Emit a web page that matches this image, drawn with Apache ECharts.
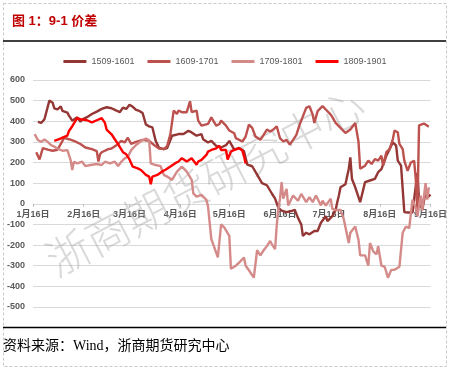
<!DOCTYPE html>
<html><head><meta charset="utf-8">
<script src="https://cdn.jsdelivr.net/npm/echarts@6/dist/echarts.min.js"></script>
<style>html,body{margin:0;padding:0;background:#fff}#c{width:450px;height:371px}</style>
</head><body><div id="c"></div>
<script>
// x = days after Jan 16, y = spread value
const seriesNames = ['1509-1601', '1609-1701', '1709-1801', '1809-1901'];
const xTickDays = [0, 31, 59, 90, 120, 151, 181, 212, 243];
const xTickLabels = ['1月16日', '2月16日', '3月16日', '4月16日', '5月16日', '6月16日', '7月16日', '8月16日', '9月16日'];
const yMin = -500, yMax = 600, yStep = 100;

const s1509 = [[3,397],[5,392],[7,410],[10,500],[12,490],[13,463],[15,458],[17,472],[18,450],[21,442],[22,427],[24,403],[27,419],[29,398],[30,408],[33,420],[36,435],[39,447],[42,460],[45,468],[48,463],[51,452],[53,444],[55,466],[57,460],[59,480],[61,470],[63,455],[65,450],[67,440],[69,385],[71,375],[73,370],[75,305],[77,272],[80,265],[82,270],[85,330],[89,338],[92,338],[95,354],[97,346],[100,330],[103,338],[104,313],[107,297],[109,305],[112,281],[115,273],[118,284],[120,305],[121,297],[123,263],[126,271],[129,255],[131,190],[134,182],[137,141],[140,100],[143,90],[146,50],[148,25],[150,-20],[152,-33],[155,-40],[158,-35],[160,-29],[162,-68],[164,-100],[165,-156],[167,-140],[169,-148],[172,-132],[174,-132],[176,-92],[179,-60],[180,-84],[183,-60],[185,-30],[186,8],[187,40],[188,80],[191,95],[193,168],[194,225],[195,120],[197,80],[200,8],[203,105],[206,113],[209,121],[211,153],[213,168],[215,209],[216,233],[218,265],[220,298],[222,282],[223,209],[225,185],[227,-40],[229,-42],[232,-42],[233,-40],[235,150],[236,20],[238,-30],[240,60],[241,30],[243,45]];
const s1609 = [[2,250],[4,215],[6,270],[9,263],[12,257],[15,262],[18,305],[19,320],[22,313],[25,305],[29,290],[32,273],[33,280],[36,265],[39,255],[40,205],[41,240],[42,250],[46,265],[48,268],[51,284],[54,305],[56,297],[58,320],[60,290],[63,300],[67,310],[71,305],[74,285],[77,268],[80,265],[82,280],[84,338],[86,452],[88,436],[89,452],[91,444],[94,444],[96,497],[97,444],[100,452],[101,403],[103,379],[104,387],[107,387],[109,419],[112,379],[114,387],[115,403],[118,379],[120,355],[123,342],[124,318],[128,302],[130,326],[132,384],[134,368],[136,326],[139,310],[141,334],[143,360],[145,350],[147,360],[149,376],[151,318],[153,302],[155,310],[157,287],[159,310],[161,334],[163,384],[165,424],[167,465],[169,473],[171,432],[172,392],[174,449],[177,473],[179,457],[182,432],[183,420],[185,392],[186,400],[188,368],[191,343],[194,360],[197,392],[199,300],[200,170],[203,185],[205,209],[207,193],[209,217],[211,209],[213,233],[214,185],[216,250],[218,265],[220,314],[221,355],[223,347],[224,290],[226,265],[227,209],[229,160],[231,200],[233,209],[234,120],[235,-35],[236,380],[239,389],[242,373]];
const s1709 = [[1,338],[3,309],[5,300],[7,312],[9,300],[11,285],[13,277],[15,268],[18,257],[19,248],[21,260],[23,212],[24,164],[25,204],[27,196],[30,204],[32,183],[35,188],[36,183],[39,193],[42,188],[44,204],[47,196],[50,204],[52,183],[54,204],[56,220],[58,228],[60,260],[63,285],[64,276],[67,309],[69,316],[71,309],[72,196],[75,188],[78,183],[80,140],[82,132],[85,116],[88,156],[91,180],[94,156],[97,116],[98,51],[100,35],[103,43],[106,19],[107,-13],[109,-170],[113,-260],[115,-100],[117,-115],[120,-155],[121,-315],[124,-300],[126,-285],[129,-260],[130,-300],[132,-322],[135,-358],[137,-225],[139,-250],[141,-225],[143,-205],[145,-180],[146,-195],[148,-220],[149,-105],[150,-25],[151,25],[152,105],[153,25],[155,72],[156,-8],[159,40],[162,15],[164,48],[167,8],[169,32],[171,8],[173,40],[176,-8],[177,15],[179,-8],[182,25],[183,-25],[185,-30],[188,-30],[190,-75],[193,-190],[194,-140],[197,-110],[199,-175],[200,-250],[203,-250],[205,-300],[206,-190],[208,-230],[210,-245],[211,-205],[213,-300],[215,-305],[217,-358],[219,-320],[221,-320],[224,-305],[226,-140],[228,-110],[230,-118],[232,20],[234,-20],[235,-60],[237,40],[238,-30],[240,100],[241,20],[242,80]];
const s1809 = [[13,305],[16,313],[18,321],[21,330],[22,353],[23,353],[24,376],[27,415],[29,410],[33,405],[36,395],[39,405],[42,415],[44,392],[45,360],[48,337],[50,313],[52,289],[55,250],[57,240],[59,215],[61,180],[64,172],[66,164],[69,140],[71,132],[72,95],[73,132],[76,140],[79,157],[81,165],[84,181],[87,197],[89,205],[91,221],[94,205],[95,213],[97,221],[100,189],[101,205],[103,213],[106,237],[107,253],[109,261],[112,269],[114,281],[115,261],[118,261],[119,215],[121,253],[123,261],[124,258],[126,269],[128,258],[129,230],[130,195]];

const colors = ['#943634', '#BC514E', '#D48A88', '#FF0000'];
const seriesData = [s1509, s1609, s1709, s1809];
const FONT = 'Liberation Sans, Arial, Noto Sans CJK SC, sans-serif';
const H = 371, gridBottom = 64;

const chart = echarts.init(document.getElementById('c'), null, {renderer: 'canvas'});
chart.setOption({
  animation: false,
  backgroundColor: '#fff',
  color: colors,
  grid: {left: 33, right: 17, top: 80, bottom: gridBottom, containLabel: false},
  legend: {
    top: 52, left: 'center', icon: 'rect', itemWidth: 23, itemHeight: 3, itemGap: 13,
    textStyle: {fontSize: 9, color: '#595959', fontFamily: FONT},
    data: seriesNames
  },
  xAxis: {
    type: 'value', min: 0, max: 243, position: 'bottom', offset: 0,
    splitLine: {show: false},
    axisLine: {onZero: false, lineStyle: {color: '#D9D9D9', width: 1}},
    axisTick: {show: true, customValues: xTickDays, length: 3, lineStyle: {color: '#BFBFBF'}},
    axisLabel: {
      customValues: xTickDays, margin: 6, fontSize: 9, fontWeight: 'bold', color: '#595959', fontFamily: FONT,
      formatter: function (v) { const i = xTickDays.indexOf(Math.round(v)); return i >= 0 ? xTickLabels[i] : ''; }
    }
  },
  yAxis: {
    type: 'value', min: yMin, max: yMax, interval: yStep,
    axisLine: {show: false, onZero: false}, axisTick: {show: false},
    splitLine: {lineStyle: {color: '#D9D9D9', width: 1}},
    axisLabel: {margin: 8, fontSize: 9, fontWeight: 'bold', color: '#595959', fontFamily: FONT}
  },
  series: seriesNames.map((n, i) => ({
    name: n, type: 'line', data: seriesData[i], showSymbol: false, symbol: 'none',
    lineStyle: {width: 2.4, color: colors[i]}, itemStyle: {color: colors[i]}, z: 3 + i
  })),
  graphic: [
    {type: 'rect', shape: {x: 3.5, y: 3.5, width: 443, height: 363}, style: {fill: 'none', stroke: '#C8C8C8', lineWidth: 1, lineDash: [3, 2]}, z: 0},
    {type: 'text', left: 12, top: 15, style: {text: '图 1：9-1 价差', fill: '#C00000', font: 'bold 13px ' + FONT}},
    {type: 'line', shape: {x1: 3, y1: 41, x2: 446, y2: 41}, style: {stroke: '#000', lineWidth: 1.3}},
    {type: 'line', shape: {x1: 3, y1: 327.5, x2: 446, y2: 327.5}, style: {stroke: '#000', lineWidth: 1.3}},
    {type: 'text', left: 3, top: 339, style: {text: '资料来源：Wind，浙商期货研究中心', fill: '#000', font: '14px Liberation Serif, Noto Sans CJK SC, serif'}},
    {type: 'text', x: 205, y: 182, rotation: 0.48, z: 1,
     style: {text: '浙商期货研究中心', fill: 'rgba(165,165,165,0.42)', font: '300 44px Noto Sans CJK SC, sans-serif', align: 'center', verticalAlign: 'middle'}}
  ]
});
// place the x axis on the zero line
const y0 = chart.convertToPixel({yAxisIndex: 0}, 0);
const yBottom = H - gridBottom;
chart.setOption({xAxis: {offset: -(yBottom - y0)}});
</script></body></html>
